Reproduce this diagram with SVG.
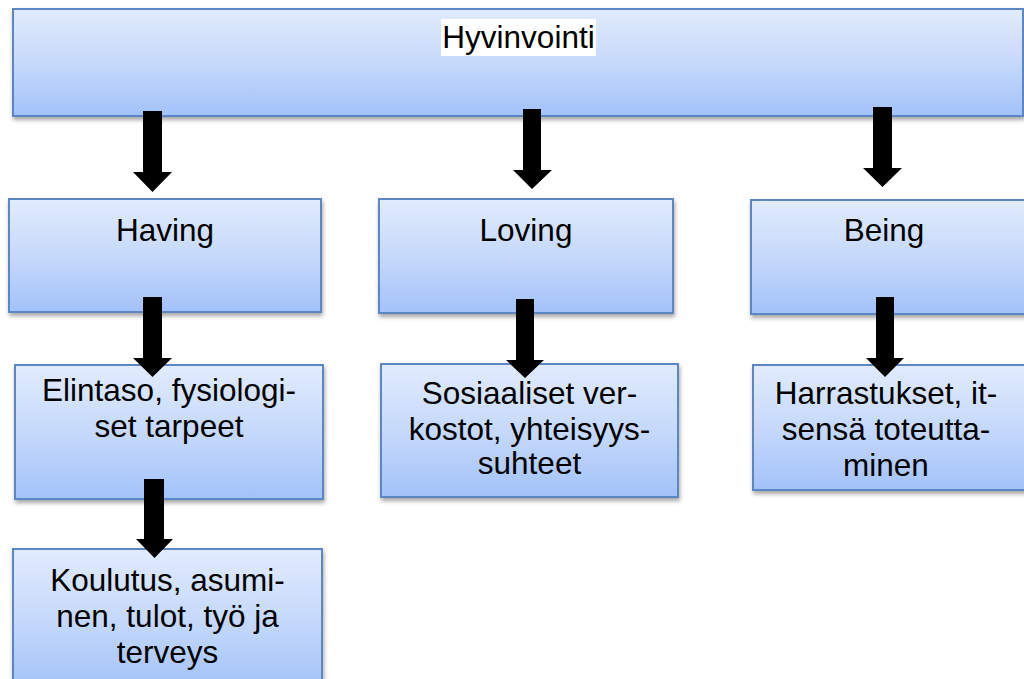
<svg xmlns="http://www.w3.org/2000/svg" width="1024" height="679" viewBox="0 0 1024 679">
<defs>
<linearGradient id="g" x1="0" y1="0" x2="0" y2="1">
<stop offset="0" stop-color="#e1ebfd"/>
<stop offset="0.5" stop-color="#c6d9fb"/>
<stop offset="1" stop-color="#a2c2f9"/>
</linearGradient>
<filter id="sh" x="-5%" y="-10%" width="110%" height="130%">
<feDropShadow dx="1" dy="3" stdDeviation="2" flood-color="#000" flood-opacity="0.35"/>
</filter>
</defs>
<style>
.box{fill:url(#g);stroke:#5b87c4;stroke-width:2;filter:url(#sh)}
.t{font-family:"Liberation Sans",Arial,sans-serif;font-size:31.5px;fill:#000;text-anchor:middle}
.ar{fill:#000}
</style>
<rect width="1024" height="679" fill="#fff"/>
<g id="n-hyvinvointi">
<rect class="box" x="13" y="9" width="1010" height="107"/>
<rect x="441" y="19" width="155" height="37" fill="#fff"/>
<text class="t" x="518.5" y="48">Hyvinvointi</text>
</g>
<g id="n-having">
<rect class="box" x="9" y="199" width="312" height="113"/>
<text class="t" x="165" y="241">Having</text>
</g>
<g id="n-loving">
<rect class="box" x="379" y="199" width="294" height="114"/>
<text class="t" x="526" y="241">Loving</text>
</g>
<g id="n-being">
<rect class="box" x="751" y="200" width="280" height="114"/>
<text class="t" x="884" y="241">Being</text>
</g>
<g id="n-elintaso">
<rect class="box" x="15" y="365" width="308" height="134"/>
<text class="t" x="169" y="401">Elintaso, fysiologi-</text>
<text class="t" x="169" y="437">set tarpeet</text>
</g>
<g id="n-sosiaaliset">
<rect class="box" x="381" y="364" width="297" height="133"/>
<text class="t" x="529.5" y="404">Sosiaaliset ver-</text>
<text class="t" x="529.5" y="440">kostot, yhteisyys-</text>
<text class="t" x="529.5" y="474">suhteet</text>
</g>
<g id="n-harrastukset">
<rect class="box" x="753" y="365" width="280" height="125"/>
<text class="t" x="886" y="404">Harrastukset, it-</text>
<text class="t" x="886" y="440">sensä toteutta-</text>
<text class="t" x="886" y="476">minen</text>
</g>
<g id="n-koulutus">
<rect class="box" x="13" y="549" width="309" height="140"/>
<text class="t" x="167.5" y="591">Koulutus, asumi-</text>
<text class="t" x="167.5" y="627">nen, tulot, työ ja</text>
<text class="t" x="167.5" y="663">terveys</text>
</g>
<g id="connectors">
<polygon class="ar" points="143,111 162,111 162,172 172,172 152.5,192 133,172 143,172"/>
<polygon class="ar" points="523,109 541,109 541,170 552,170 532,189 513,170 523,170"/>
<polygon class="ar" points="873,107 892,107 892,168 902,168 882.5,187 863,168 873,168"/>
<polygon class="ar" points="143,297 162,297 162,358 172,358 152.5,377 133,358 143,358"/>
<polygon class="ar" points="516,299 534,299 534,360 544,360 525,378 506,360 516,360"/>
<polygon class="ar" points="876,297 894,297 894,358 904,358 885,377 866,358 876,358"/>
<polygon class="ar" points="144,479 164,479 164,539 173,539 154.5,558 136,539 144,539"/>
</g>
</svg>
